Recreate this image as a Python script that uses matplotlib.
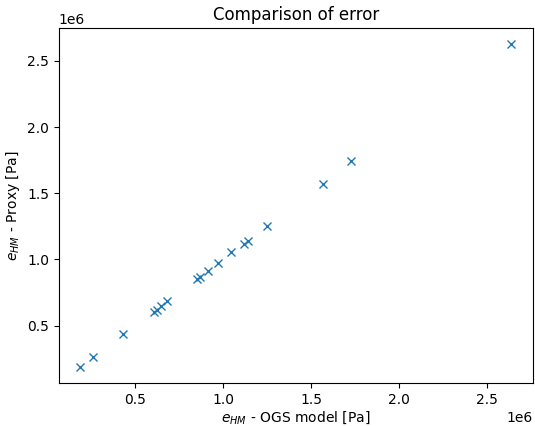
import numpy as np
import matplotlib
matplotlib.use("Agg")
import matplotlib.pyplot as plt

# error values [Pa]
e_ogs = [0.19e6, 0.261e6, 0.434e6, 0.610e6, 0.622e6, 0.647e6, 0.684e6,
         0.853e6, 0.871e6, 0.915e6, 0.970e6, 1.047e6, 1.117e6, 1.141e6,
         1.251e6, 1.568e6, 1.728e6, 2.635e6]
e_proxy = [0.189e6, 0.264e6, 0.44e6, 0.605e6, 0.615e6, 0.651e6, 0.683e6,
           0.852e6, 0.870e6, 0.915e6, 0.973e6, 1.053e6, 1.116e6, 1.143e6,
           1.254e6, 1.567e6, 1.746e6, 2.625e6]

fig, ax = plt.subplots(figsize=(5.35, 4.26), dpi=100)
fig.subplots_adjust(left=0.11, right=0.9957, top=0.934, bottom=0.101)

ax.plot(e_ogs, e_proxy, 'x')
ax.set_title('Comparison of error')
ax.set_xlabel(r'$e_{HM}$ - OGS model [Pa]', labelpad=2)
ax.set_ylabel(r'$e_{HM}$ - Proxy [Pa]')

fig.savefig('out.png', dpi=100)
